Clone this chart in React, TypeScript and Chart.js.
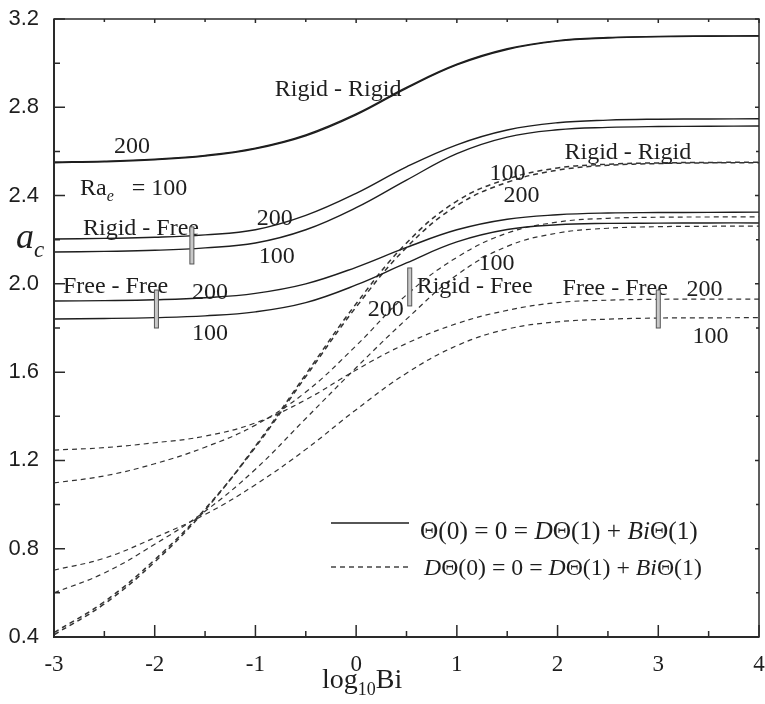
import React, { useEffect, useRef } from 'react';
import { Chart, registerables } from 'chart.js';

Chart.register(...registerables);

// log10(Bi) sample positions
const logBi = [-3, -2.5, -2, -1.5, -1, -0.5, 0, 0.5, 1, 1.5, 2, 2.5, 3, 3.5, 4];

// Θ(0) = 0 = DΘ(1) + BiΘ(1)  (solid)
const solidRigidRigid200 = [2.552, 2.556, 2.565, 2.582, 2.615, 2.675, 2.77, 2.89, 2.995, 3.065, 3.102, 3.116, 3.121, 3.123, 3.124];
const solidRigidRigid100 = [2.549, 2.553, 2.562, 2.579, 2.612, 2.671, 2.766, 2.886, 2.992, 3.062, 3.1, 3.114, 3.12, 3.122, 3.123];
const solidRigidFree200 = [2.203, 2.206, 2.211, 2.222, 2.245, 2.31, 2.41, 2.53, 2.63, 2.697, 2.73, 2.742, 2.746, 2.747, 2.748];
const solidRigidFree100 = [2.144, 2.147, 2.152, 2.163, 2.185, 2.245, 2.345, 2.47, 2.59, 2.665, 2.698, 2.709, 2.713, 2.714, 2.715];
const solidFreeFree200 = [1.922, 1.924, 1.928, 1.937, 1.957, 2.0, 2.075, 2.165, 2.245, 2.293, 2.313, 2.321, 2.323, 2.324, 2.325];
const solidFreeFree100 = [1.841, 1.843, 1.847, 1.855, 1.873, 1.915, 1.995, 2.095, 2.19, 2.246, 2.268, 2.274, 2.275, 2.276, 2.276];

// DΘ(0) = 0 = DΘ(1) + BiΘ(1)  (dashed)
const dashRigidRigid100 = [0.41, 0.55, 0.74, 0.975, 1.265, 1.59, 1.91, 2.185, 2.375, 2.475, 2.525, 2.542, 2.548, 2.55, 2.551];
const dashRigidRigid200 = [0.42, 0.56, 0.75, 0.98, 1.26, 1.58, 1.895, 2.165, 2.355, 2.46, 2.515, 2.537, 2.545, 2.548, 2.549];
const dashRigidFree200 = [1.098, 1.13, 1.185, 1.26, 1.36, 1.51, 1.72, 1.95, 2.12, 2.23, 2.28, 2.297, 2.302, 2.303, 2.304];
const dashRigidFree100 = [0.6, 0.69, 0.82, 0.97, 1.16, 1.39, 1.62, 1.84, 2.04, 2.17, 2.23, 2.252, 2.259, 2.261, 2.262];
const dashFreeFree200 = [1.247, 1.258, 1.28, 1.31, 1.37, 1.475, 1.61, 1.73, 1.82, 1.88, 1.915, 1.926, 1.93, 1.931, 1.931];
const dashFreeFree100 = [0.703, 0.757, 0.85, 0.955, 1.09, 1.25, 1.43, 1.595, 1.72, 1.795, 1.828, 1.84, 1.845, 1.846, 1.847];

const yTickValues = [0.4, 0.8, 1.2, 1.6, 2.0, 2.4, 2.8, 3.2];
const xTickValues = [-3, -2, -1, 0, 1, 2, 3, 4];

// curve labels (data coordinates: left edge, baseline)
const curveLabels = [
  { text: 'Rigid - Rigid', x: -0.808, y: 2.851 },
  { text: '200', x: -2.405, y: 2.593 },
  { text: 'Rigid - Free', x: -2.712, y: 2.221 },
  { text: '200', x: -0.986, y: 2.267 },
  { text: '100', x: -0.966, y: 2.094 },
  { text: 'Free - Free', x: -2.911, y: 1.959 },
  { text: '200', x: -1.631, y: 1.931 },
  { text: '100', x: -1.631, y: 1.746 },
  { text: '100', x: 1.325, y: 2.471 },
  { text: '200', x: 1.464, y: 2.371 },
  { text: 'Rigid - Rigid', x: 2.069, y: 2.566 },
  { text: '100', x: 1.216, y: 2.063 },
  { text: '200', x: 0.115, y: 1.854 },
  { text: 'Rigid - Free', x: 0.601, y: 1.959 },
  { text: 'Free - Free', x: 2.05, y: 1.95 },
  { text: '200', x: 3.28, y: 1.945 },
  { text: '100', x: 3.339, y: 1.732 },
];
const raLabel = { x: -2.742, y: 2.403 };

// small bar markers (data coordinates)
const barMarkers = [
  { x: -1.631, y1: 2.09, y2: 2.258 },
  { x: -1.983, y1: 1.8, y2: 1.972 },
  { x: 0.532, y1: 1.9, y2: 2.072 },
  { x: 3.0, y1: 1.8, y2: 1.972 },
];

const SERIF = '"Liberation Serif", "Times New Roman", serif';
const SANS = '"Liberation Sans", Arial, sans-serif';
const INK = '#1e1e1e';

type Run = { t: string; italic?: boolean; size?: number; dy?: number };

function drawRuns(ctx: CanvasRenderingContext2D, runs: Run[], x: number, y: number, base: number) {
  let cx = x;
  for (const r of runs) {
    const size = r.size ?? base;
    ctx.font = `${r.italic ? 'italic ' : ''}${size}px ${SERIF}`;
    ctx.fillText(r.t, cx, y + (r.dy ?? 0));
    cx += ctx.measureText(r.t).width;
  }
  return cx - x;
}

function measureRuns(ctx: CanvasRenderingContext2D, runs: Run[], base: number) {
  let w = 0;
  for (const r of runs) {
    const size = r.size ?? base;
    ctx.font = `${r.italic ? 'italic ' : ''}${size}px ${SERIF}`;
    w += ctx.measureText(r.t).width;
  }
  return w;
}

const overlayPlugin = {
  id: 'overlay',
  afterDraw(chart: any) {
    const { ctx, chartArea: a, scales } = chart;
    const xs = scales.x;
    const ys = scales.y;
    ctx.save();

    // frame
    ctx.strokeStyle = '#2a2a2a';
    ctx.lineWidth = 1.5;
    ctx.strokeRect(a.left, a.top, a.right - a.left, a.bottom - a.top);
    ctx.lineWidth = 2;
    ctx.beginPath();
    ctx.moveTo(a.left, a.top);
    ctx.lineTo(a.left, a.bottom);
    ctx.lineTo(a.right, a.bottom);
    ctx.stroke();

    // ticks (inward)
    ctx.lineWidth = 1.5;
    for (let i = 0; i <= 14; i++) {
      const v = -3 + i * 0.5;
      const px = xs.getPixelForValue(v);
      const major = i % 2 === 0;
      ctx.beginPath();
      ctx.moveTo(px, a.bottom);
      ctx.lineTo(px, a.bottom - (major ? 12 : 6));
      ctx.moveTo(px, a.top);
      ctx.lineTo(px, a.top + (major ? 4 : 3));
      ctx.stroke();
    }
    for (let i = 0; i <= 14; i++) {
      const v = 0.4 + i * 0.2;
      const py = ys.getPixelForValue(v);
      const major = i % 2 === 0;
      ctx.beginPath();
      ctx.moveTo(a.left, py);
      ctx.lineTo(a.left + (major ? 11 : 6), py);
      ctx.moveTo(a.right, py);
      ctx.lineTo(a.right - (major ? 4 : 3), py);
      ctx.stroke();
    }

    // curve labels
    ctx.fillStyle = INK;
    ctx.textBaseline = 'alphabetic';
    ctx.textAlign = 'left';
    ctx.font = `24px ${SERIF}`;
    for (const l of curveLabels) {
      ctx.fillText(l.text, xs.getPixelForValue(l.x), ys.getPixelForValue(l.y));
    }
    drawRuns(
      ctx,
      [{ t: 'Ra' }, { t: 'e', italic: true, size: 16, dy: 6 }, { t: '   = 100' }],
      xs.getPixelForValue(raLabel.x),
      ys.getPixelForValue(raLabel.y),
      24
    );

    // bar markers
    for (const m of barMarkers) {
      const px = xs.getPixelForValue(m.x);
      const y1 = ys.getPixelForValue(m.y2);
      const y2 = ys.getPixelForValue(m.y1);
      ctx.fillStyle = '#c8c8c8';
      ctx.fillRect(px - 2, y1, 4, y2 - y1);
      ctx.strokeStyle = '#555';
      ctx.lineWidth = 1;
      ctx.strokeRect(px - 2, y1, 4, y2 - y1);
    }

    // legend
    const legendRows: { dash: number[]; runs: Run[]; ly: number; ty: number; tx: number }[] = [
      {
        dash: [],
        ly: 523,
        ty: 539,
        tx: 420,
        runs: [{ t: 'Θ(0) = 0 = ' }, { t: 'D', italic: true }, { t: 'Θ(1) + ' }, { t: 'Bi', italic: true }, { t: 'Θ(1)' }],
      },
      {
        dash: [5, 4],
        ly: 567,
        ty: 575,
        tx: 424,
        runs: [
          { t: 'D', italic: true },
          { t: 'Θ(0) = 0 = ' },
          { t: 'D', italic: true },
          { t: 'Θ(1) + ' },
          { t: 'Bi', italic: true },
          { t: 'Θ(1)' },
        ],
      },
    ];
    for (const r of legendRows) {
      ctx.strokeStyle = r.dash.length ? '#444' : INK;
      ctx.lineWidth = 1.3;
      ctx.setLineDash(r.dash);
      ctx.beginPath();
      ctx.moveTo(331, r.ly);
      ctx.lineTo(409, r.ly);
      ctx.stroke();
      ctx.setLineDash([]);
      const w = measureRuns(ctx, r.runs, 22);
      const size = 22 * (278 / w);
      ctx.fillStyle = INK;
      drawRuns(ctx, r.runs, r.tx, r.ty, size);
    }

    // axis titles
    ctx.fillStyle = INK;
    drawRuns(ctx, [{ t: 'log' }, { t: '10', size: 18, dy: 7 }, { t: 'Bi' }], 322, 688, 28);
    drawRuns(ctx, [{ t: 'a', italic: true, size: 36 }, { t: 'c', italic: true, size: 23, dy: 9 }], 16, 248, 36);

    ctx.restore();
  },
};

function series(values: number[]) {
  return logBi.map((x, i) => ({ x, y: values[i] }));
}

export default function App() {
  const ref = useRef<HTMLCanvasElement | null>(null);

  useEffect(() => {
    if (!ref.current) return;
    const solid = (values: number[], w = 1.4) => ({
      data: series(values),
      borderColor: INK,
      borderWidth: w,
      pointRadius: 0,
      fill: false,
      tension: 0.4,
    });
    const dashed = (values: number[], w = 1.2) => ({
      data: series(values),
      borderColor: '#333',
      borderWidth: w,
      borderDash: [5, 4],
      pointRadius: 0,
      fill: false,
      tension: 0.4,
    });
    const chart = new Chart(ref.current, {
      type: 'line',
      data: {
        datasets: [
          solid(solidRigidRigid200),
          solid(solidRigidRigid100),
          solid(solidRigidFree200),
          solid(solidRigidFree100),
          solid(solidFreeFree200),
          solid(solidFreeFree100),
          dashed(dashRigidRigid100, 1.5),
          dashed(dashRigidRigid200, 1.5),
          dashed(dashRigidFree200),
          dashed(dashRigidFree100),
          dashed(dashFreeFree200),
          dashed(dashFreeFree100),
        ],
      },
      options: {
        responsive: false,
        animation: false,
        devicePixelRatio: 1,
        layout: { padding: { top: 19, right: 6, left: 0, bottom: 0 } },
        plugins: { legend: { display: false }, tooltip: { enabled: false } },
        scales: {
          x: {
            type: 'linear',
            min: -3,
            max: 4,
            grid: { display: false },
            border: { display: false },
            afterBuildTicks: (s: any) => {
              s.ticks = xTickValues.map((v) => ({ value: v }));
            },
            afterFit: (s: any) => {
              s.height = 67;
              s.paddingLeft = 0;
              s.paddingRight = 0;
            },
            ticks: {
              color: INK,
              padding: 6,
              maxRotation: 0,
              font: { family: SERIF, size: 23 },
              callback: (v: any) => String(v),
            },
          },
          y: {
            type: 'linear',
            min: 0.4,
            max: 3.2,
            grid: { display: false },
            border: { display: false },
            afterBuildTicks: (s: any) => {
              s.ticks = yTickValues.map((v) => ({ value: v }));
            },
            afterFit: (s: any) => {
              s.width = 54;
              s.paddingTop = 0;
              s.paddingBottom = 0;
            },
            ticks: {
              color: INK,
              padding: 7,
              font: { family: SANS, size: 22 },
              callback: (v: any) => Number(v).toFixed(1),
            },
          },
        },
      },
      plugins: [overlayPlugin],
    });
    return () => chart.destroy();
  }, []);

  return (
    <div style={{ position: 'absolute', left: 0, top: 0, width: 765, height: 704, background: '#fff' }}>
      <canvas ref={ref} width={765} height={704} />
    </div>
  );
}
